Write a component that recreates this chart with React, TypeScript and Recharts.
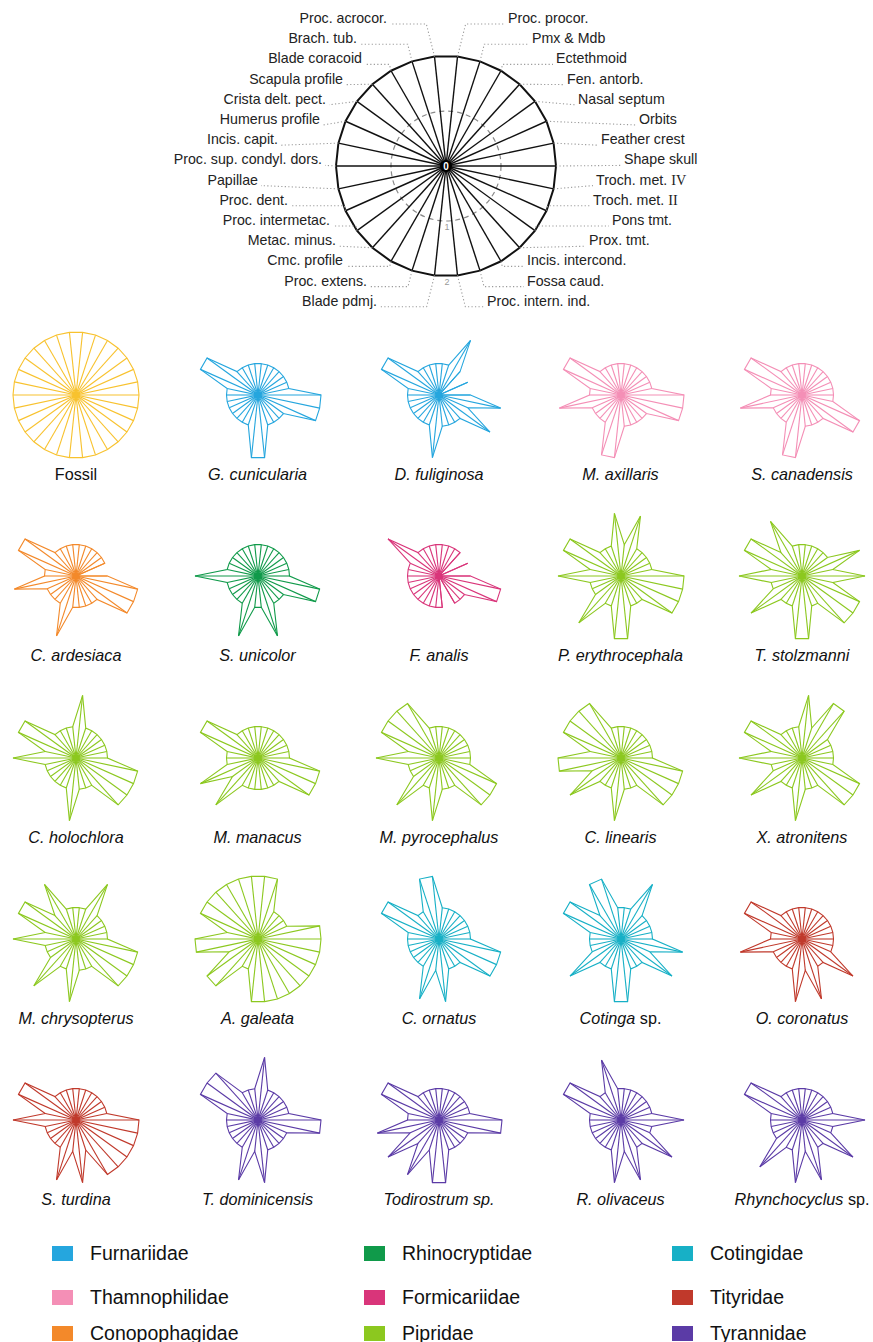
import React from 'react';
import { RadarChart, Radar, PolarAngleAxis, PolarRadiusAxis } from 'recharts';

// 30 osteological / external characters, clockwise from the top
const characters = [
  'Proc. procor.', 'Pmx & Mdb', 'Ectethmoid', 'Fen. antorb.', 'Nasal septum',
  'Orbits', 'Feather crest', 'Shape skull', 'Troch. met. IV', 'Troch. met. II',
  'Pons tmt.', 'Prox. tmt.', 'Incis. intercond.', 'Fossa caud.', 'Proc. intern. ind.',
  'Blade pdmj.', 'Proc. extens.', 'Cmc. profile', 'Metac. minus.', 'Proc. intermetac.',
  'Proc. dent.', 'Papillae', 'Proc. sup. condyl. dors.', 'Incis. capit.', 'Humerus profile',
  'Crista delt. pect.', 'Scapula profile', 'Blade coracoid', 'Brach. tub.', 'Proc. acrocor.',
];

const templateOuter = [2, 2, 2, 2, 2, 2, 2, 2, 2, 2, 2, 2, 2, 2, 2, 2, 2, 2, 2, 2, 2, 2, 2, 2, 2, 2, 2, 2, 2, 2];
const templateMiddle = [1, 1, 1, 1, 1, 1, 1, 1, 1, 1, 1, 1, 1, 1, 1, 1, 1, 1, 1, 1, 1, 1, 1, 1, 1, 1, 1, 1, 1, 1];
const scaleTicks = [0, 1, 2];

// character states per taxon (0 / 1 / 2), same order as characters
const fossil = [2, 2, 2, 2, 2, 2, 2, 2, 2, 2, 2, 2, 2, 2, 2, 2, 2, 2, 2, 2, 2, 2, 2, 2, 2, 2, 2, 2, 2, 2];
const gCunicularia = [1, 1, 1, 1, 1, 1, 1, 2, 2, 2, 1, 1, 1, 1, 2, 2, 1, 1, 1, 1, 1, 1, 1, 1, 2, 2, 1, 1, 1, 1];
const dFuliginosa = [1, 1, 2, 1, 0, 1, 0, 1, 2, 1, 2, 1, 1, 1, 1, 2, 1, 1, 1, 1, 1, 1, 1, 1, 2, 2, 1, 1, 1, 1];
const mAxillaris = [1, 1, 1, 1, 1, 1, 1, 2, 2, 2, 1, 1, 1, 1, 1, 2, 2, 1, 1, 1, 1, 2, 1, 1, 2, 2, 1, 1, 1, 1];
const sCanadensis = [1, 1, 1, 1, 1, 1, 1, 1, 1, 2, 2, 1, 1, 1, 1, 2, 2, 1, 1, 1, 1, 2, 1, 1, 2, 2, 1, 1, 1, 1];
const cArdesiaca = [1, 1, 1, 1, 1, 1, 0, 1, 2, 2, 2, 1, 1, 1, 1, 1, 2, 1, 1, 1, 1, 2, 1, 1, 2, 2, 1, 1, 1, 1];
const sUnicolor = [1, 1, 1, 1, 1, 1, 1, 1, 2, 2, 1, 1, 1, 2, 1, 1, 2, 1, 1, 1, 1, 1, 2, 1, 1, 1, 1, 1, 1, 1];
const fAnalis = [1, 1, 1, 1, 0, 1, 0, 1, 2, 2, 1, 1, 1, 0, 1, 1, 1, 1, 1, 1, 1, 1, 1, 1, 1, 2, 1, 1, 1, 1];
const pErythrocephala = [1, 2, 1, 1, 1, 1, 1, 2, 2, 2, 2, 1, 1, 1, 2, 2, 1, 1, 2, 1, 1, 1, 2, 1, 2, 2, 1, 1, 1, 2];
const tStolzmanni = [1, 1, 1, 1, 1, 2, 1, 2, 1, 2, 2, 2, 1, 1, 2, 2, 1, 1, 1, 2, 1, 1, 2, 1, 2, 2, 1, 2, 1, 1];
const cHolochlora = [2, 1, 1, 1, 1, 1, 1, 1, 2, 2, 2, 2, 1, 1, 1, 2, 1, 1, 1, 1, 1, 1, 2, 1, 2, 2, 1, 1, 1, 1];
const mManacus = [1, 1, 1, 1, 1, 1, 1, 1, 2, 2, 2, 1, 1, 1, 1, 1, 1, 1, 2, 1, 2, 1, 1, 1, 2, 2, 1, 1, 1, 1];
const mPyrocephalus = [1, 1, 1, 1, 1, 1, 1, 1, 1, 2, 2, 2, 1, 1, 1, 2, 1, 1, 2, 1, 1, 1, 2, 1, 2, 2, 2, 2, 1, 1];
const cLinearis = [1, 1, 1, 1, 1, 1, 1, 1, 2, 2, 2, 2, 1, 1, 1, 2, 1, 1, 1, 2, 1, 2, 2, 1, 2, 2, 2, 2, 1, 1];
const xAtronitens = [2, 1, 2, 2, 1, 1, 1, 1, 1, 2, 2, 2, 1, 1, 1, 2, 1, 1, 1, 2, 1, 1, 2, 1, 2, 2, 1, 1, 1, 1];
const mChrysopterus = [1, 1, 2, 1, 1, 1, 1, 1, 2, 2, 2, 2, 1, 1, 1, 2, 1, 1, 2, 1, 1, 1, 2, 1, 2, 2, 1, 2, 1, 1];
const aGaleata = [2, 2, 1, 1, 1, 1, 2, 2, 2, 2, 2, 2, 2, 2, 2, 2, 1, 1, 2, 2, 1, 2, 2, 1, 2, 2, 2, 2, 2, 2];
const cOrnatus = [1, 1, 1, 1, 1, 1, 1, 1, 2, 2, 2, 1, 1, 1, 2, 1, 2, 1, 1, 1, 1, 1, 1, 1, 2, 2, 1, 1, 2, 2];
const cotingaSp = [1, 1, 2, 1, 1, 1, 1, 1, 2, 1, 2, 1, 1, 1, 2, 2, 1, 1, 1, 2, 1, 1, 1, 1, 2, 2, 1, 2, 2, 1];
const oCoronatus = [1, 1, 1, 1, 1, 1, 1, 1, 1, 1, 2, 1, 1, 2, 1, 2, 1, 1, 1, 1, 1, 2, 1, 1, 2, 2, 1, 1, 1, 1];
const sTurdina = [1, 1, 1, 1, 1, 1, 1, 2, 2, 2, 2, 2, 2, 1, 2, 1, 2, 1, 1, 1, 1, 1, 2, 1, 2, 2, 1, 1, 1, 1];
const tDominicensis = [2, 1, 1, 1, 1, 1, 1, 2, 2, 1, 1, 1, 1, 1, 2, 1, 2, 1, 1, 1, 1, 1, 1, 1, 2, 2, 2, 1, 1, 1];
const todirostrumSp = [1, 1, 1, 1, 1, 1, 1, 2, 2, 1, 1, 1, 1, 1, 2, 2, 1, 2, 1, 2, 1, 2, 1, 1, 2, 2, 1, 1, 1, 1];
const rOlivaceus = [1, 1, 1, 1, 1, 1, 1, 2, 1, 1, 2, 1, 1, 2, 1, 2, 1, 1, 1, 1, 1, 1, 1, 1, 2, 2, 1, 1, 2, 1];
const rhynchocyclusSp = [1, 1, 1, 1, 1, 1, 1, 2, 1, 1, 2, 1, 1, 2, 1, 2, 1, 1, 2, 1, 1, 1, 1, 1, 2, 2, 1, 1, 1, 1];

const familyColors: Record<string, string> = {
  Fossil: '#F8C22E',
  Furnariidae: '#25A6DE',
  Thamnophilidae: '#F48FB6',
  Conopophagidae: '#F3892A',
  Rhinocryptidae: '#109A4A',
  Formicariidae: '#D9357A',
  Pipridae: '#8CC81F',
  Cotingidae: '#17B0C6',
  Tityridae: '#C0392B',
  Tyrannidae: '#5B3BA6',
};

// legend columns, top to bottom
const legendColumns = [
  ['Furnariidae', 'Thamnophilidae', 'Conopophagidae'],
  ['Rhinocryptidae', 'Formicariidae', 'Pipridae'],
  ['Cotingidae', 'Tityridae', 'Tyrannidae'],
];

const taxa = [
  { name: 'Fossil', italic: false, family: 'Fossil', values: fossil },
  { name: 'G. cunicularia', family: 'Furnariidae', values: gCunicularia },
  { name: 'D. fuliginosa', family: 'Furnariidae', values: dFuliginosa },
  { name: 'M. axillaris', family: 'Thamnophilidae', values: mAxillaris },
  { name: 'S. canadensis', family: 'Thamnophilidae', values: sCanadensis },
  { name: 'C. ardesiaca', family: 'Conopophagidae', values: cArdesiaca },
  { name: 'S. unicolor', family: 'Rhinocryptidae', values: sUnicolor },
  { name: 'F. analis', family: 'Formicariidae', values: fAnalis },
  { name: 'P. erythrocephala', family: 'Pipridae', values: pErythrocephala },
  { name: 'T. stolzmanni', family: 'Pipridae', values: tStolzmanni },
  { name: 'C. holochlora', family: 'Pipridae', values: cHolochlora },
  { name: 'M. manacus', family: 'Pipridae', values: mManacus },
  { name: 'M. pyrocephalus', family: 'Pipridae', values: mPyrocephalus },
  { name: 'C. linearis', family: 'Pipridae', values: cLinearis },
  { name: 'X. atronitens', family: 'Pipridae', values: xAtronitens },
  { name: 'M. chrysopterus', family: 'Pipridae', values: mChrysopterus },
  { name: 'A. galeata', family: 'Pipridae', values: aGaleata },
  { name: 'C. ornatus', family: 'Cotingidae', values: cOrnatus },
  { name: 'Cotinga', suffix: ' sp.', family: 'Cotingidae', values: cotingaSp },
  { name: 'O. coronatus', family: 'Tityridae', values: oCoronatus },
  { name: 'S. turdina', family: 'Tityridae', values: sTurdina },
  { name: 'T. dominicensis', family: 'Tyrannidae', values: tDominicensis },
  { name: 'Todirostrum sp.', family: 'Tyrannidae', values: todirostrumSp },
  { name: 'R. olivaceus', family: 'Tyrannidae', values: rOlivaceus },
  { name: 'Rhynchocyclus', suffix: ' sp.', family: 'Tyrannidae', values: rhynchocyclusSp },
];

const FONT = '"Liberation Sans", Arial, Helvetica, sans-serif';

// key chart geometry
const TOP_CX = 446;
const TOP_CY = 166;
const TOP_R = 110;
// label layout: text start (right side) / text end (left side), per row from the top
const rightLabelStart = [508, 532, 556, 567, 578, 639, 601, 624, 596, 593, 612, 589, 527, 527, 487];
const leftLabelEnd = [387, 357, 362, 343, 326, 320, 278, 322, 258, 288, 330, 336, 343, 367, 377];

function centerOf(p: any): [number, number] {
  if (typeof p.cx === 'number' && typeof p.cy === 'number') return [p.cx, p.cy];
  const rad = (-p.angle * Math.PI) / 180;
  return [p.x - p.radius * Math.cos(rad), p.y - p.radius * Math.sin(rad)];
}

function RoseShape(props: any) {
  const { points, color } = props;
  if (!points || !points.length) return null;
  const [cx, cy] = centerOf(points[0]);
  const d = points.map((p: any, i: number) => `${i ? 'L' : 'M'}${p.x},${p.y}`).join('') + 'Z';
  return (
    <g>
      {points.map((p: any, i: number) => (
        <line key={i} x1={cx} y1={cy} x2={p.x} y2={p.y} stroke={color} strokeWidth={1.1} />
      ))}
      <path d={d} fill="none" stroke={color} strokeWidth={1.1} strokeLinejoin="miter" />
      <circle cx={cx} cy={cy} r={3.5} fill={color} />
    </g>
  );
}

function TemplateShape(props: any) {
  const { points } = props;
  if (!points || !points.length) return null;
  const [cx, cy] = centerOf(points[0]);
  const d = points.map((p: any, i: number) => `${i ? 'L' : 'M'}${p.x},${p.y}`).join('') + 'Z';
  return (
    <g>
      {points.map((p: any, i: number) => (
        <line key={i} x1={cx} y1={cy} x2={p.x} y2={p.y} stroke="#111" strokeWidth={1.4} />
      ))}
      <path d={d} fill="none" stroke="#111" strokeWidth={2} strokeLinejoin="miter" />
      <circle cx={cx} cy={cy} r={6} fill="#000" />
      <text x={cx} y={cy + 3.5} textAnchor="middle" fontSize={10} fontWeight="bold" fill="#fff" fontFamily={FONT}>
        0
      </text>
    </g>
  );
}

function MiddleRingShape(props: any) {
  const { points } = props;
  if (!points || !points.length) return null;
  const [cx, cy] = centerOf(points[0]);
  return (
    <circle cx={cx} cy={cy} r={points[0].radius} fill="none" stroke="#8a8a8a" strokeWidth={1.2} strokeDasharray="5 4" />
  );
}

function CharacterTick(props: any) {
  const { x, y, payload } = props;
  const index = typeof props.index === 'number' ? props.index : characters.indexOf(payload.value);
  const label: string = payload.value;
  const dx = x - TOP_CX;
  const dy = y - TOP_CY;
  const len = Math.hypot(dx, dy) || 1;
  const sx = TOP_CX + (dx / len) * TOP_R;
  const sy = TOP_CY + (dy / len) * TOP_R;
  const right = index < 15;
  const row = right ? index : 29 - index;
  const ty = 18 + row * 20.2;
  const ly = ty + 6;
  const gap = Math.abs(ly - sy);
  const bx = right ? sx + gap * 0.25 : sx - gap * 0.25;
  const textX = right ? rightLabelStart[row] : leftLabelEnd[row];
  const endX = right ? textX - 3 : textX + 3;
  const pts = gap < 4 ? `${sx},${sy} ${endX},${ly}` : `${sx},${sy} ${bx},${ly} ${endX},${ly}`;
  const roman = label.match(/^(.*) (IV|II)$/);
  return (
    <g>
      <polyline points={pts} fill="none" stroke="#9a9a9a" strokeWidth={1.1} strokeDasharray="1.2 2.3" />
      <text x={textX} y={ty + 5} textAnchor={right ? 'start' : 'end'} fontSize={14.2} fill="#222" fontFamily={FONT}>
        {roman ? (
          <>
            {roman[1] + ' '}
            <tspan fontFamily='"Liberation Serif", "Times New Roman", serif'>{roman[2]}</tspan>
          </>
        ) : (
          label
        )}
      </text>
    </g>
  );
}

function ScaleTick(props: any) {
  const { x, y, payload } = props;
  if (payload.value === 0) return null;
  return (
    <text x={x + 1} y={y + 9} textAnchor="middle" fontSize={9} fill="#9a9a9a" fontFamily={FONT}>
      {payload.value}
    </text>
  );
}

function TemplateChart() {
  const rows = characters.map((c, i) => ({ c, outer: templateOuter[i], middle: templateMiddle[i] }));
  return (
    <div style={{ position: 'absolute', left: 0, top: 0 }}>
      <RadarChart
        width={873}
        height={318}
        cx={TOP_CX}
        cy={TOP_CY}
        outerRadius={TOP_R}
        startAngle={84}
        endAngle={-276}
        data={rows}
        margin={{ top: 0, right: 0, bottom: 0, left: 0 }}
      >
        <PolarAngleAxis dataKey="c" tickLine={false} axisLine={false} tick={CharacterTick} />
        <PolarRadiusAxis
          angle={-90}
          domain={[0, 2]}
          ticks={scaleTicks as any}
          tickCount={3}
          axisLine={false}
          tickLine={false}
          tick={ScaleTick}
        />
        <Radar dataKey="middle" isAnimationActive={false} fill="none" stroke="#8a8a8a" shape={(p: any) => <MiddleRingShape {...p} />} />
        <Radar dataKey="outer" isAnimationActive={false} fill="none" stroke="#111" shape={(p: any) => <TemplateShape {...p} />} />
      </RadarChart>
    </div>
  );
}

function MiniRose({ values, color }: { values: number[]; color: string }) {
  const rows = characters.map((c, i) => ({ c, v: values[i] }));
  return (
    <RadarChart
      width={150}
      height={150}
      cx={75}
      cy={75}
      outerRadius={63}
      startAngle={84}
      endAngle={-276}
      data={rows}
      margin={{ top: 0, right: 0, bottom: 0, left: 0 }}
    >
      <PolarAngleAxis dataKey="c" tick={false} tickLine={false} axisLine={false} />
      <PolarRadiusAxis domain={[0, 2]} tick={false} axisLine={false} tickLine={false} />
      <Radar dataKey="v" isAnimationActive={false} fill="none" stroke={color} shape={(p: any) => <RoseShape {...p} color={color} />} />
    </RadarChart>
  );
}

export default function App() {
  return (
    <div style={{ position: 'absolute', left: 0, top: 0, width: 873, height: 1342, background: '#fff', overflow: 'hidden', fontFamily: FONT }}>
      <TemplateChart />
      {taxa.map((t: any, i) => {
        const col = i % 5;
        const row = Math.floor(i / 5);
        const cx = 76 + col * 181.5;
        const cy = 395 + row * 181.3;
        const italic = t.italic !== false;
        return (
          <div key={t.name}>
            <div style={{ position: 'absolute', left: cx - 75, top: cy - 75, width: 150, height: 150 }}>
              <MiniRose values={t.values} color={familyColors[t.family]} />
            </div>
            <div
              style={{
                position: 'absolute',
                left: cx - 90,
                width: 180,
                top: cy + 70,
                textAlign: 'center',
                fontSize: 16.2,
                color: '#111',
                whiteSpace: 'nowrap',
              }}
            >
              <span style={{ fontStyle: italic ? 'italic' : 'normal' }}>{t.name}</span>
              {t.suffix ? <span>{t.suffix}</span> : null}
            </div>
          </div>
        );
      })}
      {legendColumns.map((col, ci) =>
        col.map((fam, ri) => (
          <div key={fam} style={{ position: 'absolute', left: [52, 364, 672][ci], top: [1253, 1297, 1333][ri] - 11, height: 22, display: 'flex', alignItems: 'center' }}>
            <div style={{ width: 21, height: 15, background: familyColors[fam], marginRight: 17 }} />
            <span style={{ fontSize: 19.5, color: '#111' }}>{fam}</span>
          </div>
        ))
      )}
    </div>
  );
}
